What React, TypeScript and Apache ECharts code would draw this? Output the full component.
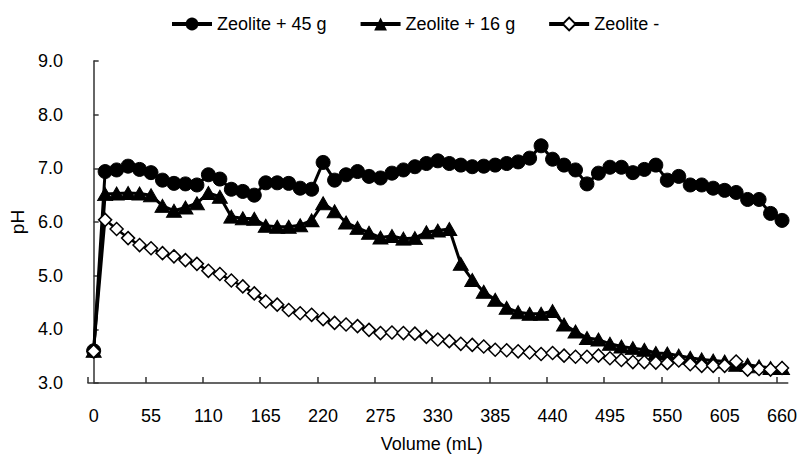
import React, { useEffect, useRef } from "react";
import * as echarts from "echarts";

const volumes = [
  0, 11, 22, 33, 44, 55, 66, 77, 88, 99, 110, 121, 132, 143, 154, 165, 176, 187, 198, 209,
  220, 231, 242, 253, 264, 275, 286, 297, 308, 319, 330, 341, 352, 363, 374, 385, 396, 407, 418, 429,
  440, 451, 462, 473, 484, 495, 506, 517, 528, 539, 550, 561, 572, 583, 594, 605, 616, 627, 638, 649, 660,
];

const zeolite45 = [
  3.6, 6.94, 6.97, 7.04, 6.98, 6.92, 6.78, 6.72, 6.71, 6.69,
  6.88, 6.8, 6.61, 6.57, 6.5, 6.73, 6.73, 6.72, 6.63, 6.61,
  7.11, 6.78, 6.88, 6.94, 6.85, 6.82, 6.91, 6.97, 7.03, 7.09,
  7.14, 7.09, 7.06, 7.03, 7.04, 7.06, 7.09, 7.12, 7.19, 7.42,
  7.17, 7.06, 6.97, 6.71, 6.91, 7.02, 7.02, 6.92, 6.98, 7.06,
  6.78, 6.85, 6.69, 6.69, 6.63, 6.59, 6.55, 6.42, 6.42, 6.16, 6.03,
];

const zeolite16 = [
  3.6, 6.52, 6.53, 6.54, 6.53, 6.5, 6.3, 6.21, 6.27, 6.35,
  6.54, 6.47, 6.1, 6.07, 6.06, 5.93, 5.91, 5.91, 5.94, 6.03,
  6.35, 6.2, 5.99, 5.89, 5.8, 5.71, 5.74, 5.69, 5.7, 5.81,
  5.84, 5.87, 5.22, 4.92, 4.7, 4.55, 4.4, 4.32, 4.29, 4.29,
  4.34, 4.09, 3.96, 3.84, 3.81, 3.73, 3.68, 3.65, 3.62, 3.56,
  3.55, 3.51, 3.47, 3.44, 3.42, 3.4, 3.34, 3.34, 3.31, 3.28, 3.28,
];

const zeoliteNone = [
  3.59, 6.04, 5.87, 5.7, 5.57, 5.51, 5.42, 5.36, 5.29, 5.22,
  5.09, 5.03, 4.91, 4.8, 4.67, 4.52, 4.46, 4.36, 4.3, 4.27,
  4.19, 4.12, 4.09, 4.06, 3.99, 3.93, 3.94, 3.93, 3.92, 3.86,
  3.81, 3.78, 3.73, 3.71, 3.68, 3.62, 3.61, 3.59, 3.57, 3.54,
  3.56, 3.51, 3.49, 3.49, 3.51, 3.46, 3.43, 3.39, 3.39, 3.38,
  3.37, 3.42, 3.35, 3.32, 3.32, 3.32, 3.4, 3.25, 3.26, 3.25, 3.28,
];

const xTickLabels = [0, 55, 110, 165, 220, 275, 330, 385, 440, 495, 550, 605, 660];
const seriesNames = ["Zeolite + 45 g", "Zeolite + 16 g", "Zeolite -"];

const FONT = "'Liberation Sans', Arial, sans-serif";

export default function App() {
  const ref = useRef<HTMLDivElement>(null);

  useEffect(() => {
    if (!ref.current) return;
    const chart = echarts.init(ref.current, null, { renderer: "svg" });
    const halfStep = (volumes[1] - volumes[0]) / 2;
    const toPairs = (arr: number[]) => arr.map((v, i) => [volumes[i], v]);
    const lineStyle = { color: "#000", width: 3 };

    chart.setOption({
      animation: false,
      backgroundColor: "#fff",
      textStyle: { fontFamily: FONT, color: "#000" },
      legend: {
        top: 10,
        left: 165,
        itemWidth: 40,
        itemHeight: 16,
        itemGap: 32,
        textStyle: { fontSize: 18, color: "#000", fontFamily: FONT },
        lineStyle: { width: 4 },
        data: seriesNames,
      },
      grid: { left: 84, right: 12, top: 61, bottom: 76 },
      xAxis: {
        type: "value",
        min: volumes[0] - halfStep,
        max: volumes[volumes.length - 1] + halfStep,
        name: "Volume (mL)",
        nameLocation: "middle",
        nameGap: 52,
        nameTextStyle: { fontSize: 18, color: "#000", fontFamily: FONT, padding: [0, 12, 0, 0] },
        axisLine: { lineStyle: { color: "#333", width: 1.5 } },
        axisTick: {
          inside: true,
          length: 6,
          lineStyle: { color: "#333", width: 1.5 },
          customValues: xTickLabels.map((v) => v - halfStep),
        },
        axisLabel: {
          fontSize: 18,
          color: "#000",
          fontFamily: FONT,
          margin: 24,
          customValues: xTickLabels,
        },
        splitLine: { show: false },
      },
      yAxis: {
        type: "value",
        min: 3,
        max: 9,
        interval: 1,
        name: "pH",
        nameLocation: "middle",
        nameGap: 56,
        nameRotate: 90,
        nameTextStyle: { fontSize: 19, color: "#000", fontFamily: FONT },
        axisLine: { show: true, lineStyle: { color: "#333", width: 1.5 } },
        axisTick: { show: true, inside: true, length: 5, lineStyle: { color: "#333", width: 1.5 } },
        axisLabel: {
          fontSize: 18,
          color: "#000",
          fontFamily: FONT,
          margin: 25,
          formatter: (v: number) => v.toFixed(1),
        },
        splitLine: { show: false },
      },
      series: [
        {
          name: seriesNames[0],
          type: "line",
          data: toPairs(zeolite45),
          symbol: "circle",
          symbolSize: 14,
          lineStyle,
          itemStyle: { color: "#000", borderColor: "#000" },
          z: 2,
        },
        {
          name: seriesNames[1],
          type: "line",
          data: toPairs(zeolite16),
          symbol: "triangle",
          symbolSize: [15, 13],
          lineStyle,
          itemStyle: { color: "#000", borderColor: "#000" },
          z: 3,
        },
        {
          name: seriesNames[2],
          type: "line",
          data: toPairs(zeoliteNone),
          symbol: "diamond",
          symbolSize: 13,
          showAllSymbol: true,
          lineStyle: { color: "#000", width: 2.5 },
          itemStyle: { color: "#fff", borderColor: "#000", borderWidth: 1.5 },
          z: 4,
        },
      ],
    });

    return () => chart.dispose();
  }, []);

  return <div ref={ref} style={{ width: 800, height: 459, position: "absolute", left: 0, top: 0 }} />;
}
